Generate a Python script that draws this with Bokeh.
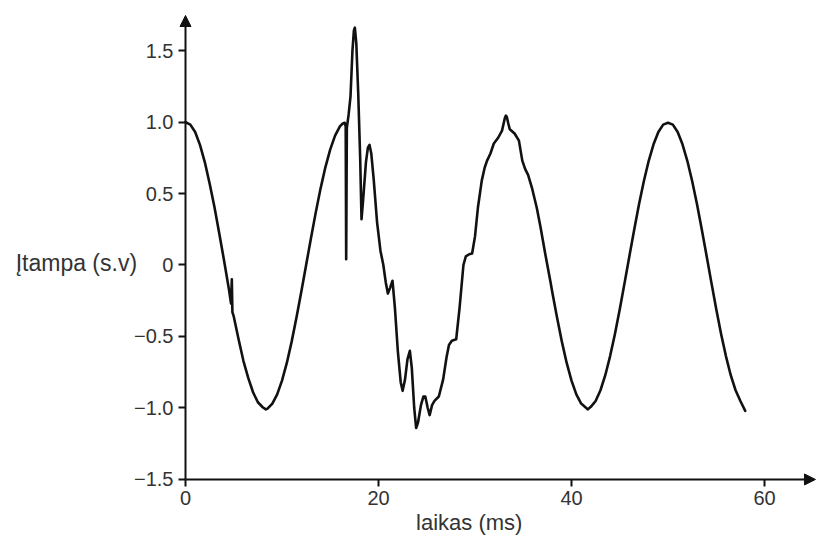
from bokeh.plotting import figure
from bokeh.models import Range1d, FixedTicker, Arrow, NormalHead, Label
from bokeh.embed import file_html
from bokeh.resources import INLINE

# time (ms)
time_ms = [
    0.0, 0.5, 1.0, 1.5, 2.0, 2.5, 3.0, 3.5, 4.0, 4.5, 4.72, 4.80, 4.86, 5.0,
    5.5, 6.0, 6.5, 7.0, 7.5, 8.0, 8.33, 8.5, 9.0, 9.5, 10.0, 10.5, 11.0,
    11.5, 12.0, 12.5, 13.0, 13.5, 14.0, 14.5, 15.0, 15.5, 16.0, 16.3, 16.5,
    16.6, 16.65, 16.72, 16.9, 17.1, 17.3, 17.45, 17.55, 17.7, 17.9, 18.1,
    18.24, 18.4, 18.7, 18.9, 19.07, 19.25, 19.5, 19.85, 20.2, 20.5, 20.75,
    20.97, 21.2, 21.45, 21.7, 22.0, 22.3, 22.5, 22.75, 23.0, 23.25, 23.45,
    23.7, 23.9, 24.1, 24.4, 24.65, 24.85, 25.1, 25.3, 25.55, 25.8, 26.25,
    26.7, 27.05, 27.3, 27.6, 28.05, 28.4, 28.8, 29.05, 29.4, 29.7, 30.0,
    30.3, 30.7, 31.0, 31.25, 31.6, 31.95, 32.4, 32.8, 33.0, 33.1, 33.2,
    33.3, 33.45, 33.6, 34.1, 34.55, 34.9, 35.2, 35.5, 35.9, 36.4, 36.8,
    37.3, 37.8,
    38.0, 38.5, 39.0, 39.5, 40.0, 40.5, 41.0, 41.5, 41.67, 42.0, 42.5,
    43.0, 43.5, 44.0, 44.5, 45.0, 45.5, 46.0, 46.5, 47.0, 47.5, 48.0,
    48.5, 49.0, 49.5, 50.0, 50.5, 51.0, 51.5, 52.0, 52.5, 53.0, 53.5,
    54.0, 54.5, 55.0, 55.5, 56.0, 56.5, 57.0, 57.5, 58.0,
]

# voltage (p.u.)
voltage_pu = [
    1.000, 0.982, 0.930, 0.840, 0.720, 0.570, 0.405, 0.220, 0.030, -0.170,
    -0.270, -0.100, -0.330, -0.360,
    -0.520, -0.670, -0.790, -0.890, -0.960, -0.995, -1.010, -1.005, -0.969,
    -0.905, -0.809, -0.685, -0.536, -0.368, -0.187, 0.000, 0.187, 0.368,
    0.536, 0.685, 0.809, 0.905, 0.969, 0.990, 0.995,
    0.970, 0.040, 0.960, 1.050, 1.180, 1.500, 1.640, 1.660, 1.550, 1.200,
    0.750, 0.320, 0.450, 0.720, 0.820, 0.840, 0.780, 0.600, 0.300, 0.100,
    0.000, -0.120, -0.200, -0.160, -0.110, -0.300, -0.600, -0.820, -0.880,
    -0.800, -0.660, -0.600, -0.720, -1.000, -1.140, -1.100, -0.980, -0.920,
    -0.920, -1.000, -1.050, -0.980, -0.950, -0.920, -0.800, -0.645, -0.560,
    -0.530, -0.520, -0.300, 0.000, 0.060, 0.075, 0.080, 0.200, 0.400,
    0.590, 0.680, 0.730, 0.780, 0.850, 0.890, 0.940, 1.000, 1.030, 1.045,
    1.035, 0.990, 0.950, 0.920, 0.870, 0.730, 0.670, 0.630, 0.540, 0.400,
    0.260, 0.070, -0.110,
    -0.187, -0.368, -0.536, -0.685, -0.809, -0.905, -0.969, -0.998, -1.010,
    -0.992, -0.951, -0.876, -0.771, -0.637, -0.482, -0.309, -0.125, 0.063,
    0.249, 0.426, 0.588, 0.729, 0.844, 0.930, 0.982, 0.995, 0.982, 0.930,
    0.844, 0.729, 0.588, 0.426, 0.249, 0.063, -0.125, -0.309, -0.482,
    -0.637, -0.771, -0.876, -0.951, -1.020,
]

x_ticks = [0, 20, 40, 60]
x_tick_labels = ["0", "20", "40", "60"]
y_ticks = [-1.5, -1.0, -0.5, 0.0, 0.5, 1.0, 1.5]
y_tick_labels = ["\u22121.5", "\u22121.0", "\u22120.5", "0", "0.5", "1.0", "1.5"]

x_title = "laikas (ms)"
y_title = "\u012etampa (s.v)"

FONT = "Liberation Sans"
TXT = "#333333"
INK = "#111111"

# frame covers whole canvas: 9.65 px per ms, 143 px per unit
p = figure(
    width=817, height=541, output_backend="svg", toolbar_location=None,
    x_range=Range1d(-19.17, 65.49), y_range=Range1d(-1.934, 1.85),
    min_border_left=0, min_border_right=0, min_border_top=0,
    min_border_bottom=0,
)
p.outline_line_color = None
p.xgrid.visible = False
p.ygrid.visible = False
p.background_fill_color = "white"
p.border_fill_color = "white"

p.xaxis.fixed_location = -1.5
p.yaxis.fixed_location = 0

for ax, ticks, labels in ((p.xaxis[0], x_ticks, x_tick_labels),
                          (p.yaxis[0], y_ticks, y_tick_labels)):
    ax.ticker = FixedTicker(ticks=ticks)
    ax.major_label_overrides = {t: l for t, l in zip(ticks, labels)}
    ax.axis_line_color = None
    ax.major_tick_line_color = INK
    ax.major_tick_line_width = 2
    ax.major_tick_in = 0
    ax.major_tick_out = 7
    ax.minor_tick_line_color = None
    ax.major_label_text_font = FONT
    ax.major_label_text_font_size = "20px"
    ax.major_label_text_color = TXT
    ax.major_label_standoff = 5

# axis lines with arrowheads
p.add_layout(Arrow(x_start=0, y_start=-1.5, x_end=0, y_end=1.745,
                   line_color=INK, line_width=2,
                   end=NormalHead(size=11, fill_color=INK, line_color=INK)))
p.add_layout(Arrow(x_start=0, y_start=-1.5, x_end=65.28, y_end=-1.5,
                   line_color=INK, line_width=2,
                   end=NormalHead(size=11, fill_color=INK, line_color=INK)))

p.line(time_ms, voltage_pu, line_color=INK, line_width=2.6,
       line_join="round", line_cap="round")

p.add_layout(Label(x=-17.6, y=0.017, text=y_title, text_font=FONT,
                   text_font_size="23px", text_color=TXT,
                   text_baseline="middle", text_align="left"))
p.add_layout(Label(x=29.4, y=-1.80, text=x_title, text_font=FONT,
                   text_font_size="22px", text_color=TXT,
                   text_baseline="middle", text_align="center"))

open("out.html", "w").write(file_html(p, INLINE))
